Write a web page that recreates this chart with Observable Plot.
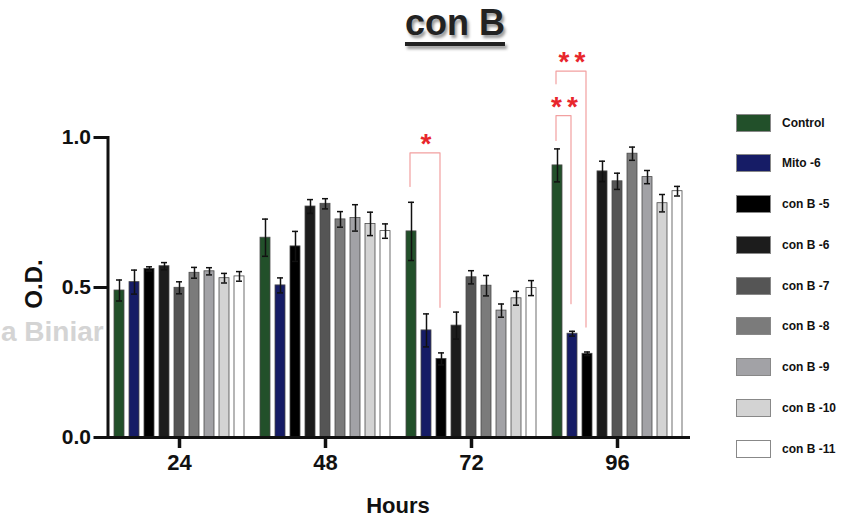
<!DOCTYPE html>
<html><head><meta charset="utf-8">
<script src="https://cdn.jsdelivr.net/npm/d3@7"></script>
<script src="https://cdn.jsdelivr.net/npm/@observablehq/plot@0.6"></script>
<style>
body{margin:0;background:#fff;}
#wrap{position:relative;width:851px;height:518px;overflow:hidden;font-family:"Liberation Sans",Arial,sans-serif;color:#111;}
#wm{position:absolute;left:1px;top:316px;font-size:28px;font-weight:700;color:#d4d4d4;white-space:nowrap;z-index:0;}
#chart{position:absolute;left:0;top:0;z-index:1;}
#chart svg text{font-weight:700;}
#chart .stars{letter-spacing:5px;}
#title{position:absolute;left:355px;width:200px;top:2px;text-align:center;font-size:36px;font-weight:700;color:#222;
  text-decoration:underline;text-decoration-thickness:4px;text-underline-offset:7px;text-shadow:2px 3px 3px #999;z-index:2;}
#ylab{position:absolute;left:34px;top:284px;transform:translate(-50%,-50%) rotate(-90deg);font-size:24px;font-weight:700;z-index:2;white-space:nowrap;}
#xlab{position:absolute;left:398px;top:506px;transform:translate(-50%,-50%);font-size:22px;font-weight:700;z-index:2;}
#legend{position:absolute;left:736px;top:114px;z-index:2;}
.row{display:flex;align-items:center;height:17px;margin-bottom:23.8px;}
.sw{width:33px;height:16px;border:1px solid #888;box-sizing:content-box;}
.lab{margin-left:11px;font-size:12px;font-weight:700;white-space:nowrap;}
</style></head>
<body>
<div id="wrap">
  <div id="wm">a Biniar</div>
  <div id="chart"></div>
  <div id="title">con B</div>
  <div id="ylab">O.D.</div>
  <div id="xlab">Hours</div>
  <div id="legend"></div>
</div>
<script>
const hours = [24, 48, 72, 96];
const series = ["Control", "Mito -6", "con B -5", "con B -6", "con B -7", "con B -8", "con B -9", "con B -10", "con B -11"];
const seriesColors = ["#22502a", "#161c66", "#000000", "#1c1c1c", "#555555", "#7b7b7b", "#a2a2a6", "#d3d3d3", "#ffffff"];
const yTicks = [0, 0.5, 1.0];

const od24 = [0.490, 0.518, 0.562, 0.571, 0.499, 0.549, 0.554, 0.531, 0.537];
const err24 = [0.035, 0.040, 0.007, 0.012, 0.020, 0.018, 0.012, 0.016, 0.016];
const od48 = [0.666, 0.507, 0.637, 0.770, 0.779, 0.727, 0.732, 0.712, 0.688];
const err48 = [0.062, 0.025, 0.050, 0.023, 0.017, 0.026, 0.044, 0.039, 0.024];
const od72 = [0.687, 0.357, 0.262, 0.373, 0.534, 0.506, 0.423, 0.464, 0.498];
const err72 = [0.097, 0.055, 0.020, 0.045, 0.022, 0.034, 0.022, 0.023, 0.025];
const od96 = [0.907, 0.346, 0.279, 0.887, 0.854, 0.946, 0.868, 0.781, 0.821];
const err96 = [0.055, 0.008, 0.006, 0.034, 0.027, 0.022, 0.022, 0.029, 0.016];

const bracketHour = [72, 96, 96];
const bracketFrom = ["Control", "Control", "Control"];
const bracketTo = ["con B -5", "Mito -6", "con B -5"];
const bracketTop = [0.949, 1.073, 1.221];
const bracketFromEnd = [0.837, 0.990, 1.179];
const bracketToEnd = [0.434, 0.446, 0.368];
const bracketStars = ["*", "**", "**"];

const means = [od24, od48, od72, od96];
const errs = [err24, err48, err72, err96];
const data = hours.flatMap((h, hi) => series.map((s, si) => ({hour: h, series: s, v: means[hi][si], e: errs[hi][si]})));

const brackets = bracketHour.map((h, i) => ({hour: h, from: bracketFrom[i], to: bracketTo[i], top: bracketTop[i], stars: bracketStars[i]}));
const bracketPts = bracketHour.flatMap((h, i) => [
  {hour: h, id: i, s: bracketFrom[i], v: bracketFromEnd[i]},
  {hour: h, id: i, s: bracketFrom[i], v: bracketTop[i]},
  {hour: h, id: i, s: bracketTo[i], v: bracketTop[i]},
  {hour: h, id: i, s: bracketTo[i], v: bracketToEnd[i]}
]);

const chart = Plot.plot({
  width: 851,
  height: 518,
  marginLeft: 105,
  marginRight: 161,
  marginTop: 137,
  marginBottom: 81,
  style: {fontFamily: "'Liberation Sans', Arial, sans-serif", background: "transparent", color: "#111", overflow: "visible"},
  fx: {domain: hours, padding: 0, label: null},
  x: {domain: series, paddingInner: 0.33, paddingOuter: 0.5, axis: null},
  y: {domain: [0, 1], label: null},
  color: {domain: series, range: seriesColors},
  marks: [
    Plot.barY(data, {fx: "hour", x: "series", y: "v", fill: "series", stroke: "#4a4a4a", strokeWidth: 0.8}),
    Plot.ruleX(data, {fx: "hour", x: "series", y1: d => d.v - d.e, y2: d => d.v + d.e, stroke: "#111", strokeWidth: 1.5}),
    Plot.tickY(data, {fx: "hour", x: "series", y: d => d.v + d.e, stroke: "#111", strokeWidth: 1.5, insetLeft: 2, insetRight: 2}),
    Plot.tickY(data, {fx: "hour", x: "series", y: d => d.v - d.e, stroke: "#111", strokeWidth: 1.5, insetLeft: 2, insetRight: 2}),
    Plot.line(bracketPts, {fx: "hour", x: "s", y: "v", z: "id", stroke: "#f2a0a0", strokeWidth: 1.2, dx: -1.5}),
    Plot.text(brackets, {
      fx: "hour", x: "to", y: "top", text: "stars", fill: "#e8262c", fontSize: 28, lineAnchor: "bottom", className: "stars",
      render(index, scales, values, dimensions, context, next) {
        const X = Float64Array.from(values.x);
        for (const i of index) {
          const off = values.x[i] - scales.x(brackets[i].to);
          X[i] = (scales.x(brackets[i].from) + scales.x(brackets[i].to)) / 2 + off + 2;
        }
        return next(index, scales, {...values, x: X}, dimensions, context);
      }
    }),
    Plot.ruleY([0], {stroke: "#111", strokeWidth: 3}),
    Plot.frame({anchor: "left", facetAnchor: "left", stroke: "#111", strokeWidth: 3, dx: 1.5}),
    Plot.axisY({ticks: yTicks, tickFormat: d3.format(".1f"), tickSize: 14, tickPadding: 3, strokeWidth: 3, fontSize: 21, label: null, dx: 1.5}),
    Plot.axisFx({anchor: "bottom", tickSize: 11, tickPadding: 6, strokeWidth: 3.5, fontSize: 22, label: null})
  ]
});
document.getElementById("chart").appendChild(chart);

const legend = document.getElementById("legend");
series.forEach((s, i) => {
  const row = document.createElement("div");
  row.className = "row";
  const sw = document.createElement("div");
  sw.className = "sw";
  sw.style.background = seriesColors[i];
  const lab = document.createElement("div");
  lab.className = "lab";
  lab.textContent = s;
  row.appendChild(sw);
  row.appendChild(lab);
  legend.appendChild(row);
});
</script>
</body></html>
